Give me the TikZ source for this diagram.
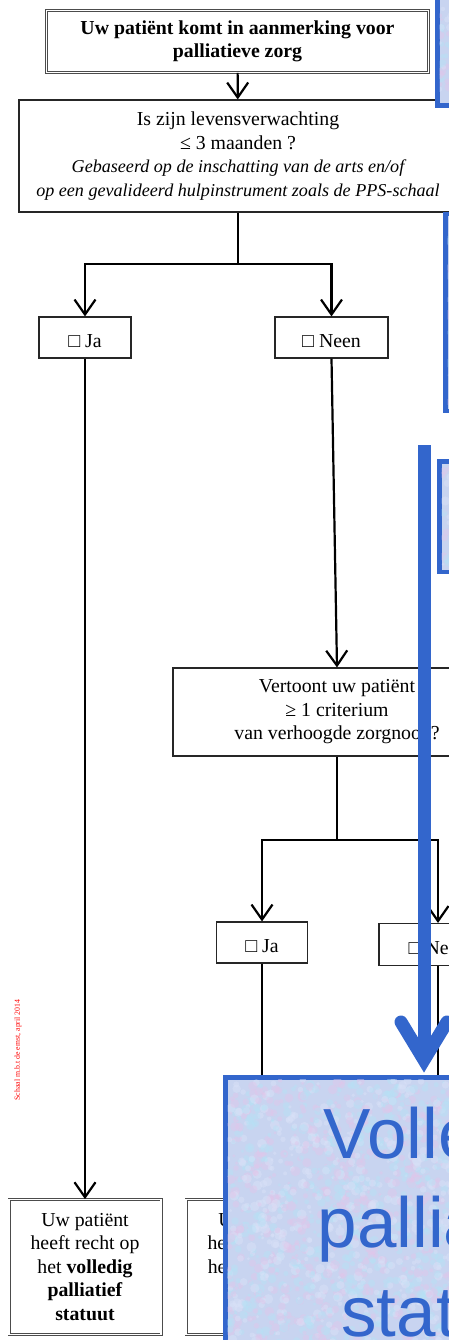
\documentclass[tikz,border=0pt]{standalone}
\usepackage{fontspec}
\setmainfont{Liberation Serif}
\newfontfamily\bigsans{Liberation Sans}
\usetikzlibrary{arrows.meta}

\definecolor{flowblue}{RGB}{51,102,204}
\definecolor{tissue}{RGB}{200,212,240}
\definecolor{tissuepink}{RGB}{226,198,234}
\definecolor{tissuecyan}{RGB}{182,226,246}
\definecolor{tissuelight}{RGB}{218,226,248}

% speckled paper texture inside a rectangle: #1,#2 = corner, #3,#4 = corner, #5 = number of specks
\newcommand\tissuefill[5]{%
  \begin{scope}
    \clip (#1,#2) rectangle (#3,#4);
    \foreach \k in {1,...,#5}{%
      \pgfmathsetmacro\sx{#1+rnd*(#3-#1)}%
      \pgfmathsetmacro\sy{#2+rnd*(#4-#2)}%
      \pgfmathsetmacro\sr{1.5+rnd*3.5}%
      \pgfmathtruncatemacro\sc{mod(\k,3)}%
      \ifcase\sc
        \fill[tissuepink,opacity=0.45] (\sx,\sy) circle[radius=\sr pt];
      \or
        \fill[tissuecyan,opacity=0.45] (\sx,\sy) circle[radius=\sr pt];
      \else
        \fill[tissuelight,opacity=0.45] (\sx,\sy) circle[radius=\sr pt];
      \fi
    }
  \end{scope}}

\newcommand\toplinestrut{\rule{0pt}{20.5pt}}

\tikzset{
  box/.style={draw=black!85, line width=1.1pt, align=center, inner sep=0pt,
    font=\fontsize{19.8}{23.5}\selectfont,
    execute at begin node=\toplinestrut},
  dbox/.style={box, draw=black!70, line width=0.7pt, double=white, double distance=1.6pt},
  conn/.style={line width=2.2pt, black},
  arr/.style={conn, -{Straight Barb[length=15pt,width=21pt,line width=2.2pt]}},
  bluepanel/.style={draw=flowblue, line width=4.5pt, fill=tissue},
  bigword/.style={anchor=base, text=flowblue, inner sep=0pt,
    font=\bigsans\fontsize{71}{89}\selectfont},
}
\newcommand\smallit[1]{{\fontsize{18.1}{23.5}\selectfont\itshape #1}}

\begin{document}
\begin{tikzpicture}[x=1pt, y=-1pt]
\useasboundingbox (0,0) rectangle (449,1340);
\clip (0,0) rectangle (449,1340);
\fill[white] (0,0) rectangle (449,1340);
\pgfmathsetseed{11}

% ---- flowchart ----
\node[dbox, minimum width=382pt, minimum height=62pt] (top) at (237.5,41.5)
  {\textbf{Uw patiënt komt in aanmerking voor}\\\textbf{palliatieve zorg}};

\node[box, minimum width=438pt, minimum height=112pt] (q1) at (238,156)
  {Is zijn levensverwachting\\≤ 3 maanden ?\\
   \smallit{Gebaseerd op de inschatting van de arts en/of}\\
   \smallit{op een gevalideerd hulpinstrument zoals de PPS-schaal}};

\node[box, minimum width=92pt, minimum height=41pt] (ja1) at (85,337.5) {□ Ja};
\node[box, minimum width=113pt, minimum height=41pt] (neen1) at (331.5,337.5) {□ Neen};

\node[box, minimum width=328pt, minimum height=88pt] (q2) at (337,712)
  {Vertoont uw patiënt\\≥ 1 criterium\\van verhoogde zorgnood?};

\node[box, minimum width=91pt, minimum height=41pt] (ja2) at (262,942.5) {□ Ja};
\node[box, minimum width=118pt, minimum height=42pt] (neen2) at (438,944.5) {□ Neen};

\node[dbox, minimum width=152pt, minimum height=135pt] (res1) at (85,1267)
  {Uw patiënt\\heeft recht op\\het \textbf{volledig}\\\textbf{palliatief}\\\textbf{statuut}};
\node[dbox, minimum width=152pt, minimum height=135pt] (res2) at (262,1267)
  {Uw patiënt\\heeft recht op\\het \textbf{verhoogd}\\\textbf{palliatief}\\\textbf{forfait}};

\coordinate (split1) at (238,264);
\coordinate (split2) at (337,840);
\coordinate (neen2end) at (438,1197);

\draw[arr] (top) -- (q1);
\draw[arr] (q1.south) -- (split1) -| (ja1.north);
\draw[arr] (split1) -| (neen1.north);
\draw[arr] (ja1.south) -- (res1.north);
\draw[arr] (neen1.south) -- (q2.north);
\draw[arr] (q2.south) -- (split2) -| (ja2.north);
\draw[arr] (split2) -| (neen2.north);
\draw[arr] (ja2.south) -- (res2.north);
\draw[arr] (neen2.south) -- (neen2end);

\node[rotate=90, text=red, inner sep=0pt, font=\fontsize{7.8}{9}\selectfont] (scale)
  at (18,1050) {Schaal m.b.t de ernst, april 2014};

% ---- blue overlay panels ----
\draw[bluepanel] (437.25,-10) rectangle (490,105.75);
\tissuefill{439.5}{-10}{490}{103.5}{120}
\draw[bluepanel] (445.25,214) rectangle (490,410.75);
\tissuefill{447.5}{216.25}{490}{408.5}{150}
\draw[bluepanel] (439.25,461.25) rectangle (490,571.75);
\tissuefill{441.5}{463.5}{490}{569.5}{100}

\draw[bluepanel] (225.25,1077.25) rectangle (671,1400);
\tissuefill{227.5}{1079.5}{455}{1400}{1800}
\node[bigword] (w1) at (448,1158) {Volledig};
\node[bigword] (w2) at (448,1247) {palliatief};
\node[bigword] (w3) at (448,1336) {statuut};

% thick blue arrow
\draw[flowblue, line width=13pt] (424,445) -- (424,1055);
\draw[flowblue, line width=13pt, line cap=round, line join=miter]
  (401,1022) -- (424,1060) -- (447,1022);
\end{tikzpicture}
\end{document}
